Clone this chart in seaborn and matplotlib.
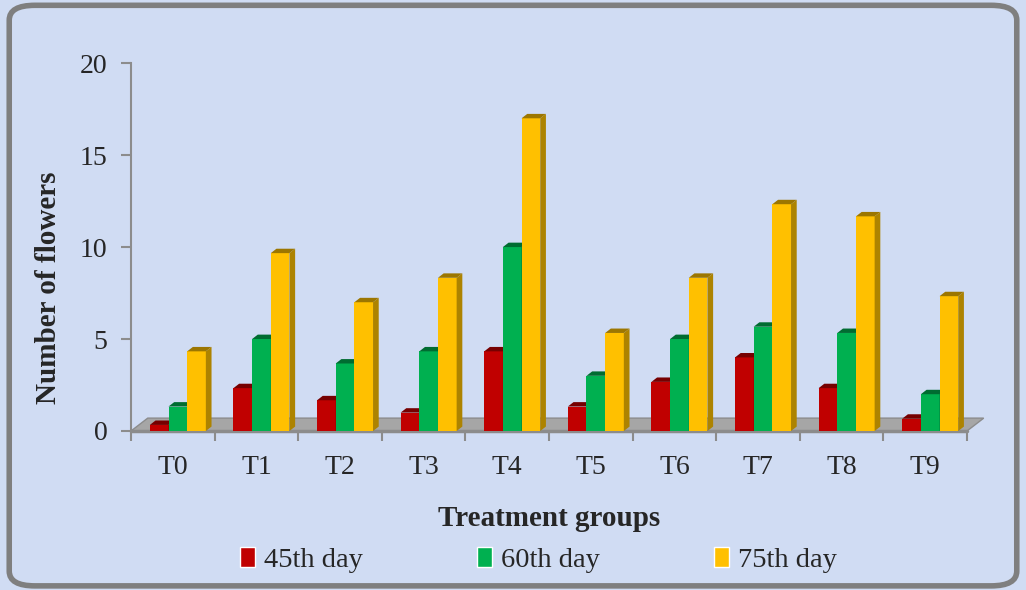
import numpy as np
import pandas as pd
import matplotlib
matplotlib.use('Agg')
import matplotlib.pyplot as plt
import matplotlib.colors as mcolors
from matplotlib.patches import Polygon, FancyBboxPatch
import seaborn as sns

# data
groups = ['T0', 'T1', 'T2', 'T3', 'T4', 'T5', 'T6', 'T7', 'T8', 'T9']
day45 = [0.33, 2.33, 1.67, 1.0, 4.33, 1.33, 2.67, 4.0, 2.33, 0.67]
day60 = [1.33, 5.0, 3.67, 4.33, 10.0, 3.0, 5.0, 5.67, 5.33, 2.0]
day75 = [4.33, 9.67, 7.0, 8.33, 17.0, 5.33, 8.33, 12.33, 11.67, 7.33]
series = ['45th day', '60th day', '75th day']
colors = ['#c00000', '#00b050', '#ffc000']

df = pd.DataFrame({'group': groups * 3,
                   'value': day45 + day60 + day75,
                   'day': np.repeat(series, len(groups))})

sns.set_style('ticks')
plt.rcParams['font.family'] = ['Liberation Serif', 'DejaVu Serif']

bg = '#d0dcf3'
fig = plt.figure(figsize=(10.26, 5.9), dpi=100, facecolor=bg)
ax = fig.add_axes([0.1277, 0.2695, 0.8148, 0.6235])
ax.set_facecolor('none')

sns.barplot(data=df, x='group', y='value', hue='day', palette=colors,
            width=0.67, gap=0, saturation=1, ax=ax, legend=True)

# pseudo 3D: side and top faces
dx, dy, shift = 0.068, 0.24, 0.06
for k, cont in enumerate(ax.containers):
    dark = np.array(mcolors.to_rgb(colors[k])) * 0.68
    for p in cont.patches:
        p.set_edgecolor('none')
        p.set_zorder(3 + k)
        p.set_x(p.get_x() + shift)
        x0, w, h = p.get_x(), p.get_width(), p.get_height()
        side = Polygon([(x0 + w, 0), (x0 + w + dx, dy), (x0 + w + dx, h + dy), (x0 + w, h)],
                       closed=True, facecolor=dark, edgecolor='none', zorder=3 + k)
        top = Polygon([(x0, h), (x0 + w, h), (x0 + w + dx, h + dy), (x0 + dx, h + dy)],
                      closed=True, facecolor=dark * 0.9, edgecolor='none', zorder=3 + k)
        ax.add_patch(side)
        ax.add_patch(top)

# floor
fx, fy = 0.2, 0.7
floor = Polygon([(-0.5, 0), (9.5, 0), (9.5 + fx, fy), (-0.5 + fx, fy)], closed=True,
                facecolor='#a6a6a6', edgecolor='#8c8c8c', linewidth=1, zorder=1, clip_on=False)
ax.add_patch(floor)
ax.plot([-0.5, 9.5], [0, 0], color='#8c8c8c', linewidth=2.5, zorder=2, clip_on=False)

ax.set_xlim(-0.5, 9.5)
ax.set_ylim(0, 20)
ax.set_yticks([0, 5, 10, 15, 20])
ax.set_xticks(range(len(groups)))
ax.set_xticklabels(groups)
ax.set_xticks(np.arange(-0.5, 10, 1), minor=True)
ax.tick_params(axis='x', which='major', length=0, pad=17, labelsize=20)
ax.tick_params(axis='x', which='minor', length=7, width=1.5, color='#8c8c8c')
ax.tick_params(axis='y', length=7, width=1.5, color='#8c8c8c', pad=10, labelsize=20)

sns.despine(ax=ax, top=True, right=True, bottom=True)
ax.spines['left'].set_color('#8c8c8c')
ax.spines['left'].set_linewidth(1.5)

ax.set_xlabel('Treatment groups', fontsize=21, fontweight='bold', labelpad=18)
ax.set_ylabel('Number of flowers', fontsize=21, fontweight='bold')
ax.yaxis.set_label_coords(-0.0825, 0.389)

ax.legend(loc='center', bbox_to_anchor=(0.487, -0.35), ncol=3, frameon=False,
          fontsize=20.5, handlelength=0.55, handleheight=0.75, handletextpad=0.3,
          columnspacing=4.0, borderaxespad=0)

# rounded frame
frame = FancyBboxPatch((0.009, 0.007), 0.982, 0.984, boxstyle='round,pad=0,rounding_size=0.025',
                       transform=fig.transFigure, facecolor='none', edgecolor='#7f7f7f',
                       linewidth=4, zorder=0)
fig.patches.append(frame)

fig.savefig('out.png', dpi=100, facecolor=bg)
